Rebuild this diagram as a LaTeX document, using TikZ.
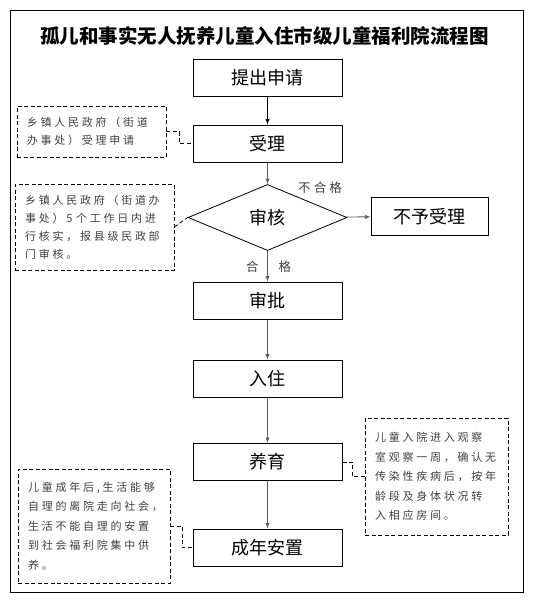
\documentclass[tikz,border=0pt]{standalone}
\usepackage{fontspec}
\setmainfont{Noto Sans CJK SC}
\newfontfamily\notefont[LetterSpace=25]{Noto Sans CJK SC}
\usetikzlibrary{shapes.geometric}
\definecolor{notegray}{HTML}{404040}
\definecolor{linegray}{HTML}{606060}

\begin{document}
\begin{tikzpicture}[x=1pt,y=-1pt,>=latex,
  stepbox/.style={draw,line width=1pt,minimum width=149pt,minimum height=37pt,
    font=\fontsize{18}{18}\selectfont},
  notebox/.style={draw,dashed,dash pattern=on 4pt off 2.5pt,line width=0.8pt,
    text=notegray,align=left,inner xsep=10pt,
    font=\notefont\fontsize{11}{18}\selectfont},
  flow/.style={->,draw=linegray,line width=0.9pt},
  link/.style={draw,dash pattern=on 4pt off 2.5pt,line width=0.8pt},
  tag/.style={text=notegray,font=\notefont\fontsize{12.5}{12.5}\selectfont}]
  \useasboundingbox (0,0) rectangle (533,600);
  \draw[line width=1pt] (10,10) rectangle (523,592);
  \node[font=\bfseries\fontsize{19.5}{19.5}\selectfont] (title) at (264.5,36.5)
    {孤儿和事实无人抚养儿童入住市级儿童福利院流程图};
  % main steps
  \node[stepbox] (apply) at (267.5,77.5) {提出申请};
  \node[stepbox] (accept) at (267.5,143.5) {受理};
  \node[draw,line width=0.8pt,diamond,minimum width=159pt,minimum height=51pt,
    font=\fontsize{18}{18}\selectfont] (review) at (267.5,217.5) {审核};
  \node[stepbox,minimum width=117pt,minimum height=38pt] (reject) at (429.5,216.5) {不予受理};
  \node[stepbox] (approve) at (267.5,300.5) {审批};
  \node[stepbox] (admit) at (267.5,378.5) {入住};
  \node[stepbox] (raise) at (267.5,462) {养育};
  \node[stepbox] (settle) at (267.5,547.5) {成年安置};
  % side notes
  \node[notebox,minimum width=149pt,minimum height=51pt,text width=129pt] (note1) at (91.5,131.5)
    {乡镇人民政府（街道\\办事处）受理申请};
  \node[notebox,minimum width=159pt,minimum height=86pt,text width=139pt] (note2) at (94.5,227)
    {乡镇人民政府（街道办\\事处）5 个工作日内进\\行核实，报县级民政部\\门审核。};
  \node[notebox,minimum width=141pt,minimum height=117pt,text width=123pt,
    font=\notefont\fontsize{11}{19.6}\selectfont] (note3) at (436.5,476.5)
    {儿童入院进入观察\\室观察一周，确认无\\传染性疾病后，按年\\龄段及身体状况转\\入相应房间。};
  \node[notebox,minimum width=152pt,minimum height=114pt,text width=132pt,
    font=\notefont\fontsize{11}{19.5}\selectfont] (note4) at (94,526)
    {儿童成年后,生活能够\\自理的离院走向社会，\\生活不能自理的安置\\到社会福利院集中供\\养。};
  % connectors
  \draw[->,line width=0.9pt] (apply) -- (accept);
  \draw[flow] (accept) -- (review);
  \draw[flow] (review) -- (reject);
  \draw[flow] (review) -- (approve);
  \draw[flow] (approve) -- (admit);
  \draw[flow] (admit) -- (raise);
  \draw[flow] (raise) -- (settle);
  \node[tag] (fail) at (320,188) {不合格};
  \node[tag] (pass) at (268.5,267) {合\hspace{20pt}格};
  \draw[link] (note1.east) -- ++(13,0) |- (accept.west);
  \draw[link] (note2.east) -- (review.west);
  \draw[link] (raise.east) -- ++(10,0) |- (note3.west);
  \draw[link] (note4.east) -- ++(12,0) |- (settle.west);
\end{tikzpicture}
\end{document}
